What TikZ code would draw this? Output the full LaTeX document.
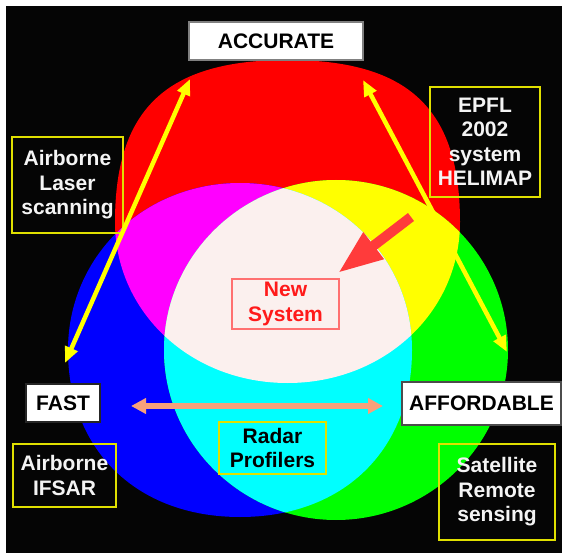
\documentclass[tikz,border=0pt]{standalone}
\usepackage{fontspec}
\setmainfont{Liberation Sans}
\usetikzlibrary{arrows.meta}
\definecolor{bgblack}{HTML}{050505}
\definecolor{cred}{HTML}{FF0000}
\definecolor{cgreen}{HTML}{00FF00}
\definecolor{cblue}{HTML}{0000FF}
\definecolor{ccyan}{HTML}{00FFFF}
\definecolor{cmagenta}{HTML}{FF00FF}
\definecolor{cyellow}{HTML}{FFFF00}
\definecolor{cwhite}{HTML}{FBF0EE}
\definecolor{boxyellow}{HTML}{E0E000}
\definecolor{txtwhite}{HTML}{F4F4F4}
\definecolor{salmon}{HTML}{F7A07A}
\definecolor{arrowred}{HTML}{FF3B3B}
\definecolor{newred}{HTML}{FF1A1A}
\definecolor{newborder}{HTML}{FF7070}
\newcommand{\shapeR}{(460,222) .. controls (460,108.6) and (408.25,60) .. (287.5,60) .. controls (166.75,60) and (115,108.6) .. (115,222) .. controls (115,312.2) and (190.9,383) .. (287.5,383) .. controls (384.1,383) and (460,312.2) .. (460,222) -- cycle}
\newcommand{\shapeB}{(412,350) .. controls (412,256.5) and (336.3,183) .. (240,183) .. controls (143.7,183) and (68,256.5) .. (68,350) .. controls (68,450.2) and (136.8,517) .. (240,517) .. controls (343.2,517) and (412,450.2) .. (412,350) -- cycle}
\newcommand{\shapeG}{(508,350) .. controls (508,256.5) and (430.6,180) .. (336,180) .. controls (241.4,180) and (164,256.5) .. (164,350) .. controls (164,443.5) and (241.4,520) .. (336,520) .. controls (430.6,520) and (508,443.5) .. (508,350) -- cycle}
\tikzset{
  ytip/.tip={Triangle[length=16pt,width=13pt]},
  stip/.tip={Triangle[length=15pt,width=15pt]},
  rtip/.tip={Triangle[length=45pt,width=31pt]},
  lbl/.style={font=\fontsize{21}{24.5}\selectfont\bfseries, align=center, inner sep=0pt, outer sep=0pt},
  ybox/.style={lbl, draw=boxyellow, line width=1.2pt, text=txtwhite},
  wbox/.style={lbl, fill=white, text=black, line width=1.5pt},
  yarrow/.style={draw=cyellow, line width=4.5pt, ytip-ytip},
  sarrow/.style={draw=salmon, line width=5.5pt, stip-stip},
  rarrow/.style={draw=arrowred, line width=10pt, -rtip}
}
\begin{document}
\begin{tikzpicture}[x=1pt,y=-1pt]
\useasboundingbox (0,0) rectangle (562,553);
\fill[white] (0,0) rectangle (562,553);
\fill[bgblack] (6,6) rectangle (562,553);
% circles
\fill[cred] \shapeR;
\fill[cblue] \shapeB;
\fill[cgreen] \shapeG;
\begin{scope}
  \clip \shapeR;
  \fill[cmagenta] \shapeB;
  \fill[cyellow] \shapeG;
\end{scope}
\begin{scope}
  \clip \shapeB;
  \fill[ccyan] \shapeG;
  \clip \shapeG;
  \fill[cwhite] \shapeR;
\end{scope}
% boxes
\node[wbox, draw=gray, minimum width=174pt, minimum height=38pt] (accurate) at (276,41) {ACCURATE};
\node[ybox, minimum width=110pt, minimum height=110pt] (epfl) at (485,142) {EPFL\\2002\\system\\HELIMAP};
\node[ybox, minimum width=111pt, minimum height=96pt] (laser) at (67.5,185) {Airborne\\Laser\\scanning};
\node[lbl, draw=newborder, line width=1.5pt, text=newred, minimum width=107pt, minimum height=50pt] (new) at (285.5,304) {New\\System};
\node[wbox, draw=black!85, minimum width=74pt, minimum height=38pt] (fast) at (63,403) {FAST};
\node[ybox, minimum width=103pt, minimum height=63pt] (ifsar) at (64.5,475.5) {Airborne\\IFSAR};
\node[ybox, text=black, minimum width=107pt, minimum height=52pt] (radar) at (272.5,448) {Radar\\Profilers};
\node[wbox, draw=black!70, minimum width=159pt, minimum height=43pt] (afford) at (481.5,403.5) {AFFORDABLE};
\node[ybox, minimum width=116pt, minimum height=96pt] (sat) at (497,492) {Satellite\\Remote\\sensing};
% arrows
\coordinate (yl1) at (190,79);
\coordinate (yl2) at (65,363);
\coordinate (yr1) at (363,80);
\coordinate (yr2) at (507,352);
\coordinate (sl) at (131,406);
\coordinate (sr) at (383,406);
\coordinate (ra) at (411,217);
\coordinate (rb) at (338,273);
\draw[yarrow] (yl1) -- (yl2);
\draw[yarrow] (yr1) -- (yr2);
\draw[sarrow] (sl) -- (sr);
\draw[rarrow] (ra) -- (rb);
\end{tikzpicture}
\end{document}
